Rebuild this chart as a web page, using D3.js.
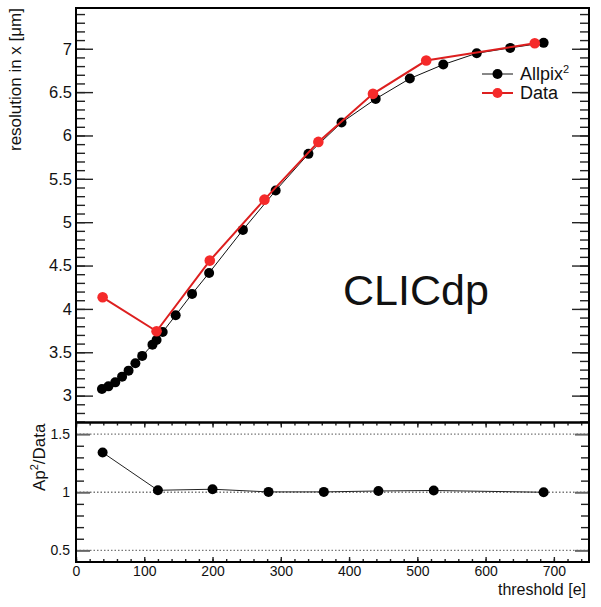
<!DOCTYPE html>
<html>
<head>
<meta charset="utf-8">
<script src="https://cdn.jsdelivr.net/npm/d3@7"></script>
<style>
    body { margin: 0; background: #fff; }
    text { font-family: "Liberation Sans", Arial, Helvetica, sans-serif; fill: #111; }
</style>
</head>
<body>
<div id="chart"></div>
<script>
// values
const allpixThr = [38, 47.5, 57.5, 67.5, 77, 87, 97, 112, 118, 127, 146, 170, 195, 244.5, 292.5, 340.5, 389, 439, 489, 538, 587, 636, 685]
const allpixRes = [3.077, 3.107, 3.153, 3.219, 3.288, 3.373, 3.458, 3.588, 3.642, 3.734, 3.926, 4.173, 4.415, 4.911, 5.365, 5.788, 6.149, 6.422, 6.656, 6.818, 6.948, 7.01, 7.068]
const dataThr = [39, 118, 196, 276, 355, 435, 513, 672]
const dataRes = [4.134, 3.742, 4.557, 5.26, 5.926, 6.48, 6.864, 7.063]
const ratioThr = [39, 120, 200, 282, 363, 443, 524, 685]
const ratioVal = [1.342, 1.017, 1.026, 1.003, 1.003, 1.011, 1.015, 1.0]

const xTicks = [0, 100, 200, 300, 400, 500, 600, 700]
const yTopTicks = [3, 3.5, 4, 4.5, 5, 5.5, 6, 6.5, 7]
const yBotTicks = [0.5, 1, 1.5]
const legendLabels = ["Allpix", "Data"]

const width = 601
const height = 607
const frame = { left: 76, right: 589, top: 8, mid: 422.5, bottom: 562 }

const svg = d3.select('#chart')
    .append('svg')
    .attr('width', width)
    .attr('height', height)

const x = d3.scaleLinear().domain([0, 750]).range([frame.left, 588])
const yTop = d3.scaleLinear().domain([2.69, 7.47]).range([frame.mid, frame.top])
const yBot = d3.scaleLinear().domain([0.4, 1.6]).range([frame.bottom, frame.mid])

const minor = (lo, hi, step) => d3.range(Math.round(lo / step), Math.floor(hi / step + 1e-6) + 1).map(i => +(i * step).toFixed(3))

const styleAxis = (g, color) => {
    g.select('.domain').remove()
    g.selectAll('.tick line').attr('stroke', color || '#222').attr('stroke-width', 1.4)
}

// ---- upper pad ----
const upper = svg.append('g')

upper.append('g')
    .attr('transform', `translate(${frame.left},0)`)
    .call(d3.axisLeft(yTop).tickValues(minor(2.7, 7.4, 0.1)).tickSize(-9).tickFormat(''))
    .call(g => styleAxis(g))
upper.append('g')
    .attr('transform', `translate(${frame.left},0)`)
    .call(d3.axisLeft(yTop).tickValues(yTopTicks).tickSize(-17).tickPadding(4).tickFormat(d3.format('')))
    .call(g => styleAxis(g))
    .call(g => g.selectAll('text').attr('font-size', 16.5))
upper.append('g')
    .attr('transform', `translate(${frame.right},0)`)
    .call(d3.axisRight(yTop).tickValues(minor(2.7, 7.4, 0.1)).tickSize(-9).tickFormat(''))
    .call(g => styleAxis(g))
upper.append('g')
    .attr('transform', `translate(${frame.right},0)`)
    .call(d3.axisRight(yTop).tickValues(yTopTicks).tickSize(-17).tickFormat(''))
    .call(g => styleAxis(g))

const line = d3.line().x(d => x(d[0])).y(d => yTop(d[1]))
const allpix = allpixThr.map((t, i) => [t, allpixRes[i]])
const data = dataThr.map((t, i) => [t, dataRes[i]])

upper.append('path').datum(allpix)
    .attr('d', line).attr('fill', 'none').attr('stroke', '#111').attr('stroke-width', 1)
upper.selectAll('.apDot').data(allpix).enter().append('circle')
    .attr('class', 'apDot')
    .attr('cx', d => x(d[0])).attr('cy', d => yTop(d[1])).attr('r', 5).attr('fill', '#000')

upper.append('path').datum(data)
    .attr('d', line).attr('fill', 'none').attr('stroke', '#dd1f1f').attr('stroke-width', 2)
upper.selectAll('.dataDot').data(data).enter().append('circle')
    .attr('class', 'dataDot')
    .attr('cx', d => x(d[0])).attr('cy', d => yTop(d[1])).attr('r', 5.3).attr('fill', '#f52a2a')

// legend
const legend = upper.append('g').attr('transform', 'translate(482,74)')
const legendStyle = [{ line: '#111', lw: 1, dot: '#000' }, { line: '#dd1f1f', lw: 2, dot: '#f52a2a' }]
legendLabels.forEach((lab, i) => {
    const row = legend.append('g').attr('transform', `translate(0,${i * 19})`)
    row.append('line').attr('x1', 0).attr('x2', 31).attr('stroke', legendStyle[i].line).attr('stroke-width', legendStyle[i].lw)
    row.append('circle').attr('cx', 15.5).attr('r', 5).attr('fill', legendStyle[i].dot)
    const t = row.append('text').attr('x', 38).attr('y', 6).attr('font-size', 18).text(lab)
    if (i == 0) t.append('tspan').attr('dy', -7).attr('font-size', 11).text('2')
})

upper.append('text')
    .attr('x', 343).attr('y', 305)
    .attr('font-size', 43)
    .text('CLICdp')

upper.append('text')
    .attr('transform', `translate(21,${frame.top}) rotate(-90)`)
    .attr('text-anchor', 'end')
    .attr('font-size', 17)
    .text('resolution in x [μm]')

upper.append('rect')
    .attr('x', frame.left).attr('y', frame.top)
    .attr('width', frame.right - frame.left).attr('height', frame.mid - frame.top)
    .attr('fill', 'none').attr('stroke', '#000').attr('stroke-width', 2)

// ---- ratio pad ----
const lower = svg.append('g')
const botMinor = minor(0.5, 1.5, 0.1).filter(v => !yBotTicks.includes(v))

lower.selectAll('.ref').data(yBotTicks).enter().append('line')
    .attr('x1', frame.left).attr('x2', frame.right)
    .attr('y1', d => yBot(d)).attr('y2', d => yBot(d))
    .attr('stroke', '#777').attr('stroke-width', 1.3).attr('stroke-dasharray', '1.5,2')

lower.append('g')
    .attr('transform', `translate(${frame.left},0)`)
    .call(d3.axisLeft(yBot).tickValues(botMinor).tickSize(-8).tickFormat(''))
    .call(g => styleAxis(g))
lower.append('g')
    .attr('transform', `translate(${frame.left},0)`)
    .call(d3.axisLeft(yBot).tickValues(yBotTicks).tickSize(-14).tickPadding(6).tickFormat(d3.format('')))
    .call(g => styleAxis(g, '#666'))
    .call(g => g.selectAll('.tick line').attr('stroke-width', 2))
    .call(g => g.selectAll('text').attr('font-size', 14))
lower.append('g')
    .attr('transform', `translate(${frame.right},0)`)
    .call(d3.axisRight(yBot).tickValues(botMinor).tickSize(-8).tickFormat(''))
    .call(g => styleAxis(g))
lower.append('g')
    .attr('transform', `translate(${frame.right},0)`)
    .call(d3.axisRight(yBot).tickValues(yBotTicks).tickSize(-14).tickFormat(''))
    .call(g => styleAxis(g, '#666'))
    .call(g => g.selectAll('.tick line').attr('stroke-width', 2))

lower.append('g')
    .attr('transform', `translate(0,${frame.bottom})`)
    .call(d3.axisBottom(x).tickValues(minor(0, 740, 20)).tickSize(-3).tickFormat(''))
    .call(g => styleAxis(g))
lower.append('g')
    .attr('transform', `translate(0,${frame.bottom})`)
    .call(d3.axisBottom(x).tickValues(xTicks).tickSize(-5).tickPadding(4).tickFormat(d3.format('')))
    .call(g => styleAxis(g))
    .call(g => g.selectAll('text').attr('font-size', 14))
lower.append('g')
    .attr('transform', `translate(0,${frame.mid})`)
    .call(d3.axisTop(x).tickValues(minor(0, 740, 20)).tickSize(-3).tickFormat(''))
    .call(g => styleAxis(g))
lower.append('g')
    .attr('transform', `translate(0,${frame.mid})`)
    .call(d3.axisTop(x).tickValues(xTicks).tickSize(-5).tickFormat(''))
    .call(g => styleAxis(g))

const ratio = ratioThr.map((t, i) => [t, ratioVal[i]])
lower.append('path').datum(ratio)
    .attr('d', d3.line().x(d => x(d[0])).y(d => yBot(d[1])))
    .attr('fill', 'none').attr('stroke', '#222').attr('stroke-width', 1)
lower.selectAll('.rDot').data(ratio).enter().append('circle')
    .attr('class', 'rDot')
    .attr('cx', d => x(d[0])).attr('cy', d => yBot(d[1])).attr('r', 5).attr('fill', '#000')

const ratioTitle = lower.append('text')
    .attr('transform', `translate(45,${frame.mid + 1}) rotate(-90)`)
    .attr('text-anchor', 'end')
    .attr('font-size', 17)
ratioTitle.append('tspan').text('Ap')
ratioTitle.append('tspan').attr('dy', -7).attr('font-size', 11).text('2')
ratioTitle.append('tspan').attr('dy', 7).text('/Data')

lower.append('text')
    .attr('x', 586).attr('y', 595)
    .attr('text-anchor', 'end')
    .attr('font-size', 16)
    .text('threshold [e]')

lower.append('rect')
    .attr('x', frame.left).attr('y', frame.mid)
    .attr('width', frame.right - frame.left).attr('height', frame.bottom - frame.mid)
    .attr('fill', 'none').attr('stroke', '#000').attr('stroke-width', 2)
</script>
</body>
</html>
